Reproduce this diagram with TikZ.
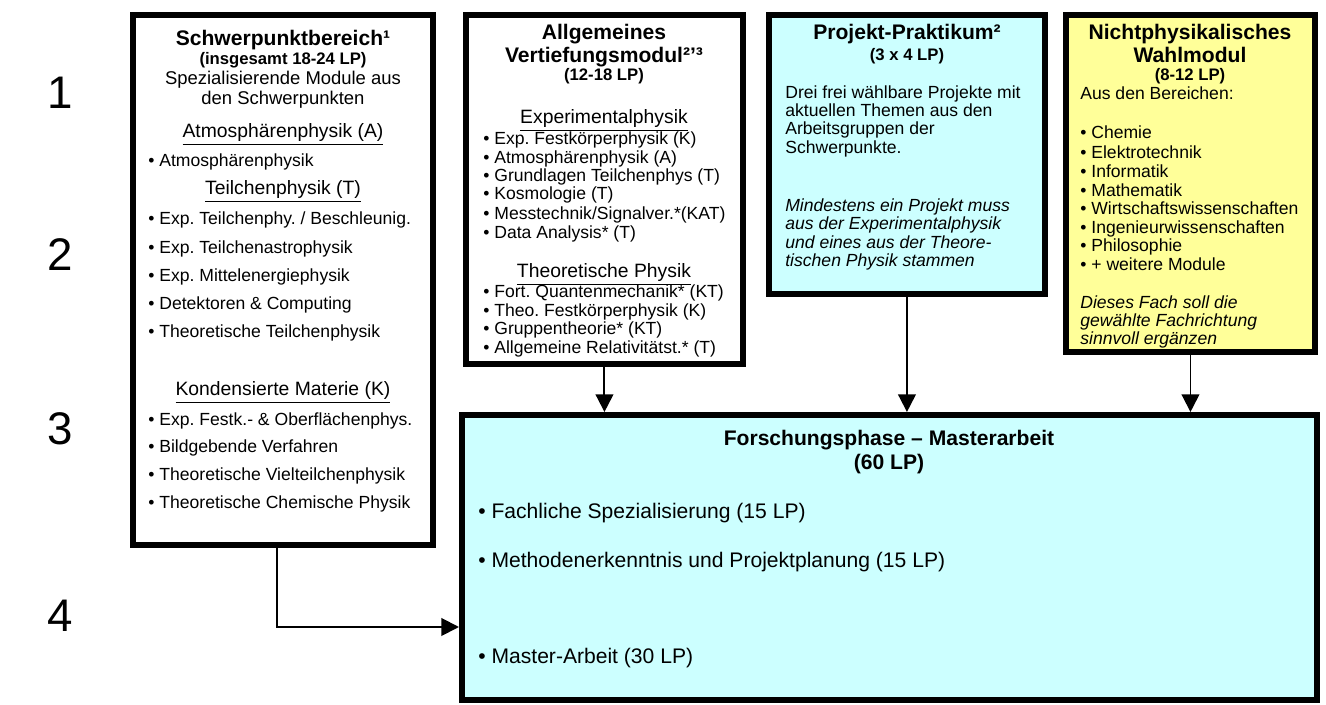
\documentclass[tikz,border=0pt]{standalone}
\usepackage{fontspec}
\setmainfont{Liberation Sans}
\usetikzlibrary{arrows.meta}
\definecolor{paleCyan}{HTML}{CCFFFF}
\definecolor{paleYellow}{HTML}{FFFF99}
\frenchspacing

\tikzset{
  box/.style={draw, line width=3.4pt, anchor=north west, inner sep=0pt},
  sem/.style={inner sep=0pt, font=\fontsize{26}{30}\selectfont},
  ttl/.style={anchor=base, yshift=-4.3pt, inner sep=0pt, font=\bfseries\fontsize{12}{14}\selectfont},
  lp/.style={anchor=base, yshift=-3.4pt, inner sep=0pt, font=\bfseries\fontsize{9.5}{11}\selectfont},
  mid/.style={anchor=base, yshift=-3.8pt, inner sep=0pt, font=\fontsize{10.5}{12}\selectfont},
  hd/.style={anchor=base, yshift=-3.9pt, inner sep=0pt, font=\fontsize{11}{13}\selectfont},
  itm/.style={anchor=base west, yshift=-3.6pt, inner sep=0pt, font=\fontsize{10}{12}\selectfont},
  big/.style={anchor=base west, yshift=-4.3pt, inner sep=0pt, font=\fontsize{12}{14}\selectfont},
  arr/.style={-{Triangle[length=10pt,width=10pt]}, line width=1.1pt},
}

\begin{document}
\begin{tikzpicture}[x=0.02cm, y=-0.02cm]
\useasboundingbox (0,0) rectangle (1326,705);

% semester numbers
\foreach \y [count=\i] in {93,255,429,616}
  \node[sem] (n\i) at (60,\y) {\i};

% boxes
\node[box, minimum width=6cm, minimum height=10.6cm] (b1) at (130,12) {};
\node[box, minimum width=5.54cm, minimum height=6.98cm] (b2) at (463,12) {};
\node[box, fill=paleCyan, minimum width=5.52cm, minimum height=5.58cm] (b3) at (766,12) {};
\node[box, fill=paleYellow, minimum width=4.98cm, minimum height=6.74cm] (b4) at (1063,12) {};
\node[box, fill=paleCyan, minimum width=17.1cm, minimum height=5.7cm] (b5) at (459,412) {};

% Schwerpunktbereich
\node[ttl] (t1) at (283,38) {Schwerpunktbereich¹};
\node[lp] (p1) at (283,59) {(insgesamt 18-24 LP)};
\node[mid] (m1) at (283,78) {Spezialisierende Module aus};
\node[mid] (m2) at (283,98) {den Schwerpunkten};
\node[hd] (h1) at (283,131) {\underline{Atmosphärenphysik (A)}};
\node[hd] (h2) at (283,188) {\underline{Teilchenphysik (T)}};
\node[hd] (h3) at (283,389) {\underline{Kondensierte Materie (K)}};
\foreach \y/\t [count=\i] in {160/Atmosphärenphysik,
    218/{Exp. Teilchenphy. / Beschleunig.}, 247/Exp. Teilchenastrophysik,
    275/Exp. Mittelenergiephysik, 303/Detektoren \& Computing,
    331/Theoretische Teilchenphysik, 419/Exp. Festk.- \& Oberflächenphys.,
    446/Bildgebende Verfahren, 474/Theoretische Vielteilchenphysik,
    502/Theoretische Chemische Physik}
  \node[itm] (s\i) at (148,\y) {• \t};

% Vertiefungsmodul
\node[ttl] (t2) at (604,32) {Allgemeines};
\node[ttl] (t3) at (604,55) {Vertiefungsmodul²'³};
\node[lp] (p2) at (604,75) {(12-18 LP)};
\node[hd] (h4) at (604,117) {\underline{Experimentalphysik}};
\node[hd] (h5) at (604,271) {\underline{Theoretische Physik}};
\foreach \y/\t [count=\i] in {138/Exp. Festkörperphysik (K), 157/Atmosphärenphysik (A),
    175/Grundlagen Teilchenphys (T), 193/Kosmologie (T),
    213/{Messtechnik/Signalver.*(KAT)}, 232/Data Analysis* (T),
    291/Fort. Quantenmechanik* (KT), 310/Theo. Festkörperphysik (K),
    328/Gruppentheorie* (KT), 347/Allgemeine Relativitätst.* (T)}
  \node[itm] (v\i) at (483,\y) {• \t};

% Projekt-Praktikum
\node[ttl] (t4) at (907,32) {Projekt-Praktikum²};
\node[lp] (p3) at (907,55) {(3 x 4 LP)};
\foreach \y/\t [count=\i] in {92/Drei frei wählbare Projekte mit, 110/aktuellen Themen aus den,
    128/Arbeitsgruppen der, 147/Schwerpunkte.}
  \node[itm] (r\i) at (785,\y) {\t};
\foreach \y/\t [count=\i] in {205/Mindestens ein Projekt muss, 223/aus der Experimentalphysik,
    242/und eines aus der Theore-, 260/tischen Physik stammen}
  \node[itm, font=\itshape\fontsize{10}{12}\selectfont] (q\i) at (785,\y) {\t};

% Wahlmodul
\node[ttl] (t5) at (1190,32) {Nichtphysikalisches};
\node[ttl] (t6) at (1190,55) {Wahlmodul};
\node[lp] (p4) at (1190,75) {(8-12 LP)};
\node[itm] (w0) at (1080,93) {Aus den Bereichen:};
\foreach \y/\t [count=\i] in {132/Chemie, 152/Elektrotechnik, 171/Informatik, 190/Mathematik,
    208/Wirtschaftswissenschaften, 227/Ingenieurwissenschaften, 245/Philosophie,
    264/+ weitere Module}
  \node[itm] (w\i) at (1080,\y) {• \t};
\foreach \y/\t [count=\i] in {302/Dieses Fach soll die, 320/gewählte Fachrichtung,
    338/sinnvoll ergänzen}
  \node[itm, font=\itshape\fontsize{10}{12}\selectfont] (k\i) at (1080,\y) {\t};

% Forschungsphase
\node[ttl] (t7) at (889,438) {Forschungsphase – Masterarbeit};
\node[ttl] (p5) at (889,462) {(60 LP)};
\foreach \y/\t [count=\i] in {511/Fachliche Spezialisierung (15 LP),
    560/Methodenerkenntnis und Projektplanung (15 LP), 656/Master-Arbeit (30 LP)}
  \node[big] (f\i) at (478,\y) {• \t};

% arrows
\draw[arr] (b2.south) -- (b2.south |- b5.north);
\draw[arr] (b3.south) -- (b3.south |- b5.north);
\draw[arr] (b4.south) -- (b4.south |- b5.north);
\coordinate (bend) at (277,627);
\draw[arr] (b1.south -| bend) -- (bend) -- (bend -| b5.west);
\end{tikzpicture}
\end{document}
